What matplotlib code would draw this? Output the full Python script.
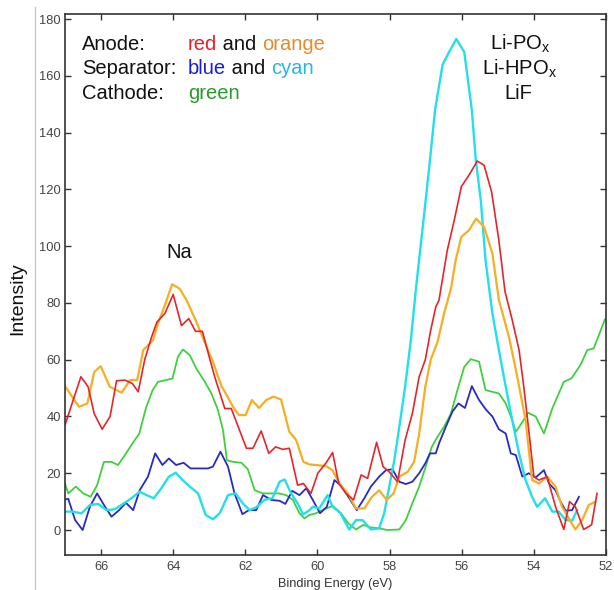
import matplotlib
matplotlib.use("Agg")
import matplotlib.pyplot as plt
from matplotlib.lines import Line2D

plt.rcParams['font.family'] = ['Liberation Sans', 'DejaVu Sans']

# ---------------- data ----------------
red_E = [67.0, 66.56, 66.36, 66.19, 65.97, 65.75, 65.57, 65.34, 65.13, 64.97, 64.79, 64.6, 64.45,
         64.23, 64.0, 63.77, 63.57, 63.38, 63.19, 63.04, 62.85, 62.57, 62.39, 61.97, 61.79, 61.56,
         61.35, 61.16, 60.96, 60.78, 60.55, 60.39, 60.18, 59.99, 59.76, 59.58, 59.41, 59.21, 59.0,
         58.79, 58.61, 58.36, 58.18, 58.01, 57.78, 57.57, 57.37, 57.18, 57.01, 56.86, 56.72, 56.63,
         56.4, 56.21, 56.01, 55.8, 55.57, 55.38, 55.17, 54.97, 54.8, 54.6, 54.41, 54.28, 54.14, 54.0,
         53.86, 53.63, 53.4, 53.17, 53.01, 52.85, 52.62, 52.4, 52.25]
red_I = [37, 54, 50.5, 41, 35.5, 40, 52.6, 52.8, 51.6, 48.7, 60, 68, 73.3,
         76.3, 83, 72, 74.5, 70, 70, 62.8, 54, 42.8, 42.8, 28.8, 28.8, 34.9,
         27, 29.3, 28.4, 28.8, 15.8, 16.4, 12.9, 20, 23.7, 27.3, 16.4, 12.9, 10.6,
         19.4, 18.2, 30.9, 22.3, 20.5, 17, 31.7, 41, 54, 60, 70.4, 78.6, 81,
         98.6, 109, 121, 125, 130, 128.5, 119, 102, 84, 74, 63.4, 50.5, 35, 18.8,
         17.6, 18.8, 8.2, 0.2, 10, 8.2, 0.2, 1.8, 12.9]

orange_E = [67.0, 66.61, 66.38, 66.19, 66.01, 65.76, 65.62, 65.43, 65.2, 65.0, 64.83, 64.56, 64.42,
            64.23, 64.03, 63.82, 63.63, 63.38, 63.13, 62.9, 62.67, 62.34, 62.18, 61.99, 61.82, 61.62,
            61.42, 61.22, 61.01, 60.78, 60.59, 60.39, 60.22, 60.04, 59.76, 59.58, 59.39, 59.16, 58.93,
            58.7, 58.49, 58.29, 58.08, 57.89, 57.73, 57.5, 57.32, 57.18, 57.01, 56.86, 56.67, 56.49,
            56.3, 56.17, 56.01, 55.8, 55.6, 55.38, 55.15, 54.97, 54.88, 54.69, 54.46, 54.23, 54.05,
            53.86, 53.63, 53.4, 53.22, 53.03, 52.85, 52.66, 52.48, 52.29]
orange_I = [50.7, 43.4, 44.6, 55.7, 57.7, 50.5, 49.6, 48.4, 52.8, 52.8, 63.4, 66.9, 72.8,
            79.2, 86.6, 85, 81, 74, 66.3, 59.3, 51, 43.4, 40.5, 40.5, 45.8, 43,
            45.8, 47, 46, 34.6, 31.7, 24, 23.1, 22.9, 22.5, 21, 16.4, 12.9, 7.6,
            7.6, 11.7, 14, 10.6, 12.9, 18.8, 20.5, 24, 34, 50.5, 60, 66.3, 76.3,
            85, 95, 103.3, 105.6, 109.7, 106.8, 97.4, 81, 76.9, 68, 54, 38.7, 17.6,
            16.4, 18.8, 15.3, 8.2, 4.1, 0.2, 3.5, 8.8, 10]

green_E = [67.0, 66.91, 66.7, 66.49, 66.29, 66.11, 65.92, 65.71, 65.53, 65.34, 65.13, 64.94, 64.76,
           64.57, 64.42, 64.21, 64.02, 63.87, 63.73, 63.54, 63.36, 63.15, 62.94, 62.76, 62.62, 62.51,
           62.34, 62.11, 61.93, 61.74, 61.51, 61.28, 61.07, 60.87, 60.68, 60.5, 60.36, 60.22, 60.04,
           59.81, 59.58, 59.35, 59.14, 58.93, 58.73, 58.52, 58.29, 58.06, 57.73, 57.55, 57.37, 57.18,
           57.0, 56.83, 56.67, 56.49, 56.3, 56.12, 55.93, 55.75, 55.52, 55.34, 55.15, 54.97, 54.78,
           54.6, 54.5, 54.34, 54.16, 53.95, 53.72, 53.49, 53.17, 52.96, 52.71, 52.52, 52.34, 52.03]
green_I = [16.4, 12.9, 15.3, 12.9, 11.7, 15.8, 24, 24, 22.9, 26.4, 30.5, 34, 42.8,
           49.3, 52.2, 52.8, 53.4, 61, 63.6, 61.6, 56.9, 52.8, 48.1, 42.3, 35.2, 24.6,
           24, 23.7, 21.4, 14, 12.9, 12.9, 12.9, 12.3, 10.6, 5.9, 4.1, 5.3, 5.9,
           7.3, 8.5, 5.9, 2.3, 0.2, 1.8, 0.9, 0.6, 0, 0.2, 3.5, 9.4, 15.3,
           22.3, 29.3, 32.9, 36.4, 41, 49.3, 57.5, 60.2, 59.3, 49.3, 48.7, 48.1, 44.6,
           38.7, 34.6, 37.6, 41.3, 40, 34, 42.8, 52.2, 53.4, 58.1, 63.4, 64, 74.2]

blue_E = [67.0, 66.91, 66.72, 66.51, 66.31, 66.11, 65.89, 65.71, 65.5, 65.31, 65.11, 64.93, 64.7,
          64.5, 64.3, 64.12, 63.92, 63.71, 63.52, 63.28, 63.04, 62.9, 62.69, 62.48, 62.3, 62.08,
          61.9, 61.7, 61.51, 61.28, 61.05, 60.89, 60.7, 60.5, 60.31, 60.13, 59.93, 59.74, 59.53,
          59.32, 59.12, 58.91, 58.7, 58.52, 58.29, 58.1, 57.92, 57.73, 57.55, 57.37, 57.18, 57.01,
          56.88, 56.72, 56.63, 56.44, 56.26, 56.09, 55.91, 55.72, 55.52, 55.32, 55.15, 54.97, 54.78,
          54.64, 54.5, 54.32, 54.14, 53.95, 53.72, 53.58, 53.4, 53.26, 53.12, 52.94, 52.75]
blue_I = [10.8, 11, 3.5, 0, 8.2, 12.9, 8.2, 4.7, 7, 9.6, 7, 14, 18.8,
          27, 22.9, 25.2, 22.9, 23.7, 21.7, 21.7, 21.7, 22.3, 27.6, 22.3, 12.9, 5.6,
          7, 7, 12.3, 10.6, 10.3, 9.2, 13.8, 12.3, 14.7, 10.6, 5.9, 8.2, 17.6,
          15.3, 11.2, 7, 11.2, 15.3, 18.8, 21.1, 21.4, 17, 16.2, 17, 20, 23.5,
          27, 27, 30.5, 36.4, 41.7, 44.6, 43, 50.7, 45.8, 42.3, 40, 35.5, 34,
          27, 26.4, 18.8, 20, 18.5, 21.1, 16.4, 14, 10, 6.8, 7, 11.7]

cyan_E = [67.0, 66.81, 66.54, 66.31, 66.08, 65.85, 65.62, 65.39, 65.16, 64.93, 64.74, 64.54, 64.33,
          64.12, 63.93, 63.74, 63.54, 63.31, 63.1, 62.9, 62.71, 62.48, 62.27, 62.07, 61.88, 61.7,
          61.47, 61.25, 61.05, 60.91, 60.73, 60.55, 60.4, 60.22, 60.13, 59.95, 59.72, 59.58, 59.37,
          59.12, 58.93, 58.75, 58.52, 58.29, 58.15, 58.01, 57.87, 57.73, 57.57, 57.41, 57.27, 57.04,
          56.9, 56.74, 56.53, 56.35, 56.15, 55.93, 55.72, 55.61, 55.47, 55.34, 55.15, 54.97, 54.78,
          54.6, 54.41, 54.23, 54.05, 53.91, 53.69, 53.49, 53.31, 53.12, 52.94, 52.8]
cyan_I = [6.5, 6.5, 5.9, 8.8, 9.2, 7, 7.3, 9.2, 11.2, 13.5, 12.3, 11.2, 14.7,
          18.8, 20.2, 17.6, 15.3, 12.9, 5.3, 3.8, 5.9, 12.3, 12.9, 9.4, 7, 8,
          10.6, 11.2, 17, 17.8, 12.9, 9.4, 5.5, 7, 8.2, 7.6, 12.3, 8.2, 6.1,
          0.2, 3.5, 3.5, 0.2, 0.6, 5.9, 15.3, 24.6, 36.4, 50.5, 66.9, 85, 111.5,
          128, 148, 164, 168.4, 173, 168.4, 148, 130.3, 116, 95, 76.3, 63.4, 50.5,
          38.7, 27, 17.6, 11.7, 8.2, 11.2, 6.5, 6.5, 3.5, 3.3, 7]

x_ticks = [66, 64, 62, 60, 58, 56, 54, 52]
y_ticks = [0, 20, 40, 60, 80, 100, 120, 140, 160, 180]

# ---------------- figure ----------------
W, H = 614, 590
fig = plt.figure(figsize=(W / 100, H / 100), dpi=100)
ax = fig.add_axes([65 / W, 1 - 555 / H, (606 - 65) / W, (555 - 14) / H])

ax.plot(green_E, green_I, color='#3fd03f', lw=1.3)
ax.plot(blue_E, blue_I, color='#2a2ac0', lw=1.3)
ax.plot(cyan_E, cyan_I, color='#22e0ea', lw=1.7)
ax.plot(orange_E, orange_I, color='#f6ae22', lw=1.6)
ax.plot(red_E, red_I, color='#e4262c', lw=1.2)

ax.set_xlim(67, 52)
ax.set_ylim(-8.8, 181.8)
ax.set_xticks(x_ticks)
ax.set_xticklabels([str(t) for t in x_ticks])
ax.set_yticks(y_ticks)
ax.set_yticklabels([str(t) for t in y_ticks])
ax.tick_params(direction='in', top=True, right=True, length=4, width=1,
               color='#333333', labelsize=9.3, labelcolor='#444444')
ax.tick_params(axis='x', pad=4.5)
ax.tick_params(axis='y', pad=3)
for s in ax.spines.values():
    s.set_color('#333333')
    s.set_linewidth(1.2)

fig.text(335 / W, 1 - 587 / H, 'Binding Energy (eV)', fontsize=9.2, color='#333333',
         ha='center', va='baseline')
fig.text(18 / W, 1 - 299 / H, 'Intensity', rotation=90, fontsize=14,
         ha='center', va='center', color='#111111')

# left border line of the original panel
fig.add_artist(Line2D([35 / W, 35 / W], [0, 1 - 7 / H], transform=fig.transFigure,
                      color='#c8c8c8', lw=1))

FS = 14.5
def colored_row(x_label, x_col, y_base, label, pieces):
    fig.text(x_label / W, 1 - y_base / H, label, fontsize=FS, ha='left',
             va='baseline', color='#111111')
    prev = fig.text(x_col / W, 1 - y_base / H, pieces[0][0], fontsize=FS,
                    ha='left', va='baseline', color=pieces[0][1])
    for txt, col in pieces[1:]:
        prev = ax.annotate(txt, xy=(1, 0), xycoords=prev, ha='left', va='bottom',
                           fontsize=FS, color=col)

colored_row(82, 188, 50, 'Anode:', [('red', '#e4202a'), (' and ', '#111111'),
                                     ('orange', '#e8892e')])
colored_row(82, 188, 74.5, 'Separator:', [('blue', '#1b1bd6'), (' and ', '#111111'),
                                           ('cyan', '#27b8e0')])
colored_row(82, 188, 99, 'Cathode:', [('green', '#2a9a2a')])

fig.text(520 / W, 1 - 50 / H, r'Li-PO$\mathregular{_x}$', fontsize=FS, ha='center',
         va='baseline', color='#111111')
fig.text(520 / W, 1 - 75 / H, r'Li-HPO$\mathregular{_x}$', fontsize=FS, ha='center',
         va='baseline', color='#111111')
fig.text(518 / W, 1 - 99 / H, 'LiF', fontsize=FS, ha='center', va='baseline',
         color='#111111')
fig.text(179.5 / W, 1 - 258 / H, 'Na', fontsize=FS, ha='center', va='baseline',
         color='#111111')

fig.savefig('out.png', dpi=100)
